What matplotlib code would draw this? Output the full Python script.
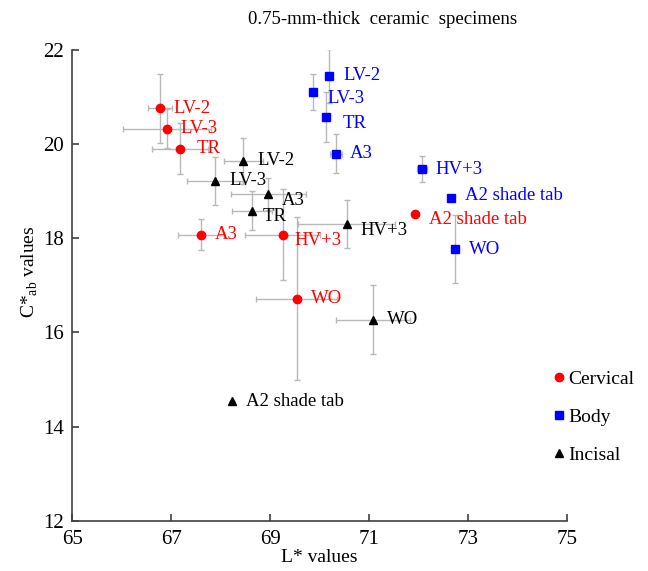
import matplotlib
matplotlib.use('Agg')
import matplotlib.pyplot as plt

## Datos: L* y C*ab por capa de ceramica
shades = ['LV-2', 'LV-3', 'TR', 'A3', 'HV+3', 'WO', 'A2 shade tab']

cerv_L = [66.77, 66.91, 67.18, 67.60, 69.26, 69.54, 71.93]
cerv_C = [20.76, 20.33, 19.90, 18.08, 18.08, 16.72, 18.52]
cerv_Lerr = [0.24, 0.89, 0.56, 0.47, 0.76, 0.82, 0]
cerv_Cerr = [0.73, 0.41, 0.54, 0.33, 0.96, 1.73, 0]

body_L = [70.20, 69.87, 70.14, 70.33, 72.07, 72.74, 72.66]
body_C = [21.45, 21.11, 20.58, 19.80, 19.47, 17.77, 18.86]
body_Lerr = [0.03, 0.03, 0.03, 0.12, 0.10, 0.03, 0]
body_Cerr = [0.57, 0.38, 0.53, 0.42, 0.28, 0.72, 0]

inc_L = [68.46, 67.89, 68.63, 68.96, 70.55, 71.08, 68.23]
inc_C = [19.65, 19.22, 18.59, 18.94, 18.30, 16.27, 14.54]
inc_Lerr = [0.39, 0.57, 0.40, 0.76, 0.98, 0.75, 0]
inc_Cerr = [0.49, 0.51, 0.41, 0.34, 0.51, 0.73, 0]

plt.rcParams['font.family'] = ['Liberation Serif', 'DejaVu Serif']

fig = plt.figure(figsize=(6.48, 5.71), dpi=100)
ax = fig.add_axes([0.1116, 0.0881, 0.7629, 0.8243])

series = [
    ('Cervical', cerv_L, cerv_C, cerv_Lerr, cerv_Cerr, 'o', '#ff0000', 6.0),
    ('Body', body_L, body_C, body_Lerr, body_Cerr, 's', '#0000ff', 5.5),
    ('Incisal', inc_L, inc_C, inc_Lerr, inc_Cerr, '^', '#000000', 5.5),
]

# desplazamiento de etiquetas (puntos) para evitar solapes
nudge = {
    ('Cervical', 'TR'): (12, 0),
    ('Cervical', 'HV+3'): (8, -4),
    ('Cervical', 'A2 shade tab'): (10, -4),
    ('Body', 'LV-3'): (10, -5),
    ('Body', 'TR'): (12, -5),
    ('Body', 'A2 shade tab'): (10, 2),
    ('Incisal', 'A3'): (10, -4.5),
    ('Incisal', 'TR'): (8, -4.5),
    ('Incisal', 'HV+3'): (10, -4.5),
}

for name, L, C, Le, Ce, mk, col, ms in series:
    ax.errorbar(L, C, xerr=Le, yerr=Ce, fmt='none', ecolor='#b8b8b8',
                elinewidth=1.0, capsize=2.5, capthick=1.0, zorder=1)
    ax.plot(L, C, linestyle='none', marker=mk, color=col, markersize=ms,
            label=name, zorder=3)
    for lab, x, y in zip(shades, L, C):
        dx, dy = nudge.get((name, lab), (10, 0))
        ax.annotate(lab, (x, y), xytext=(dx, dy), textcoords='offset points',
                    ha='left', va='center', color=col, fontsize=13.5, zorder=4)

ax.set_xlim(65, 75)
ax.set_ylim(12, 22)
ax.set_xticks([65, 67, 69, 71, 73, 75])
ax.set_yticks([12, 14, 16, 18, 20, 22])
ax.spines['top'].set_visible(False)
ax.spines['right'].set_visible(False)
for s in ['left', 'bottom']:
    ax.spines[s].set_color('#404040')
    ax.spines[s].set_linewidth(1.2)
ax.tick_params(direction='in', length=5, width=1.2, color='#404040',
               labelsize=15, pad=6)
ax.tick_params(axis='x', pad=6.5)

ax.set_xlabel('L* values', fontsize=14, labelpad=0)
fig.text(30 / 648, 1 - 272 / 571, 'C*$_{\\mathregular{ab}}$ values', rotation=90,
         ha='center', va='center', fontsize=14)
fig.text(383 / 648, 1 - 20 / 571, '0.75-mm-thick  ceramic  specimens',
         ha='center', va='center', fontsize=13.5)

ax.legend(loc='upper left', bbox_to_anchor=(553 / 648, 1 - 370 / 571),
          bbox_transform=fig.transFigure, frameon=False, fontsize=14,
          handlelength=0.6, handletextpad=0.2, borderpad=0, borderaxespad=0,
          labelspacing=1.05, markerscale=1.0)

plt.savefig('out.png', dpi=100)
